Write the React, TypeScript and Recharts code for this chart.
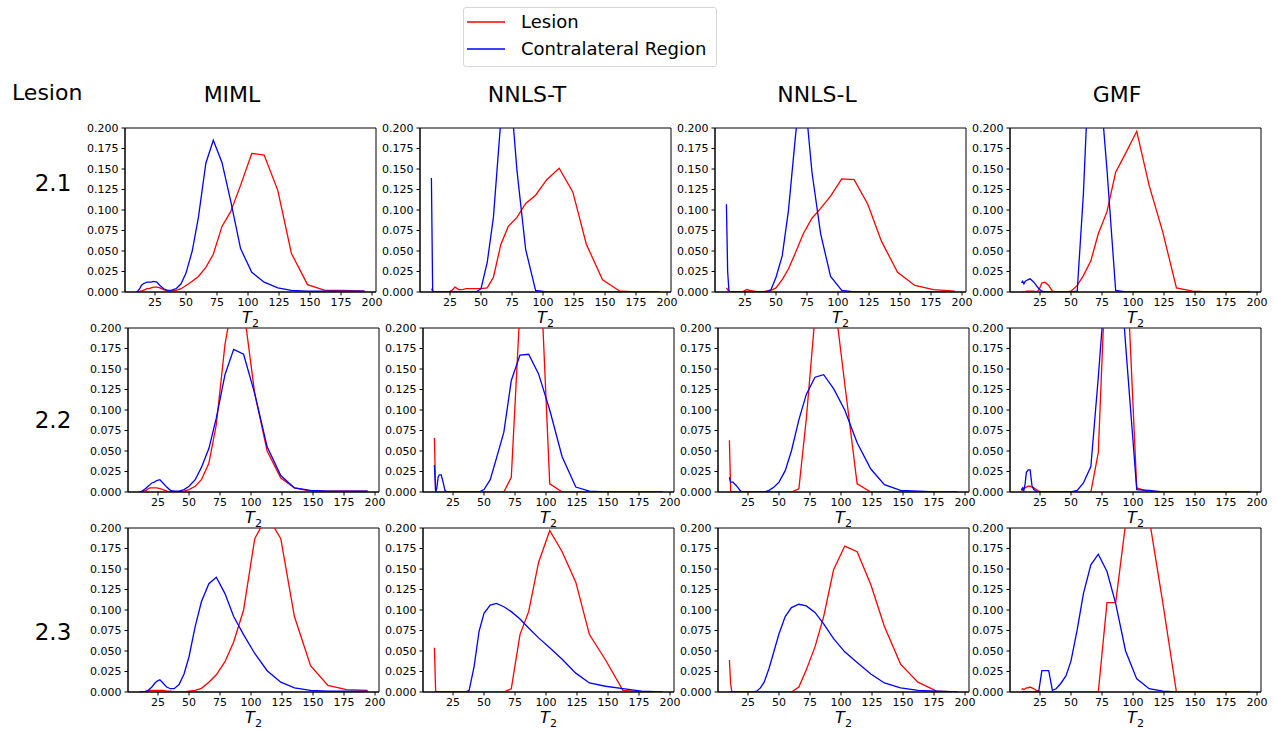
import { LineChart, Line, XAxis, YAxis, ReferenceArea } from "recharts";

// T2 sample grid (shared by every panel)
const T2 = [10, 11, 12, 13, 14, 15.5, 17, 18.5, 20, 22, 24, 26.5, 29, 32, 35, 38, 42, 46, 50, 55, 60, 66, 72, 79, 86, 94, 103, 113, 124, 135, 148, 162, 177, 194];

const X_TICKS = [25, 50, 75, 100, 125, 150, 175, 200];
const Y_TICKS = [0, 0.025, 0.05, 0.075, 0.1, 0.125, 0.15, 0.175, 0.2];

const methods = ["MIML", "NNLS-T", "NNLS-L", "GMF"];
const lesions = ["2.1", "2.2", "2.3"];

// lesion 2.1
const miml21Lesion = [0, 0, 0, 0.001, 0.001, 0.002, 0.003, 0.004, 0.004, 0.005, 0.006, 0.006, 0.005, 0.003, 0.001, 0.001, 0.002, 0.004, 0.008, 0.013, 0.019, 0.03, 0.046, 0.08, 0.098, 0.13, 0.169, 0.167, 0.124, 0.047, 0.009, 0.002, 0.002, 0.001];
const miml21Contra = [0, 0.001, 0.003, 0.005, 0.008, 0.01, 0.011, 0.012, 0.012, 0.012, 0.013, 0.012, 0.008, 0.004, 0.002, 0.002, 0.004, 0.01, 0.023, 0.05, 0.091, 0.157, 0.185, 0.158, 0.111, 0.053, 0.024, 0.012, 0.005, 0.002, 0.001, 0.001, 0.001, 0.001];
const nnlst21Lesion = [0.004, 0.001, 0, 0, 0, 0, 0, 0, 0, 0, 0, 0.002, 0.006, 0.003, 0.003, 0.004, 0.004, 0.004, 0.004, 0.005, 0.018, 0.058, 0.08, 0.091, 0.108, 0.118, 0.137, 0.151, 0.122, 0.058, 0.015, 0.001, 0, 0];
const nnlst21Contra = [0.139, 0.002, 0, 0, 0, 0, 0, 0, 0, 0, 0, 0, 0, 0, 0, 0, 0, 0, 0.004, 0.036, 0.091, 0.21, 0.28, 0.148, 0.052, 0.002, 0, 0, 0, 0, 0, 0, 0, 0];
const nnlsl21Lesion = [0.005, 0.003, 0, 0, 0, 0, 0, 0, 0, 0, 0.001, 0.003, 0.002, 0.001, 0, 0, 0.001, 0.002, 0.005, 0.015, 0.028, 0.049, 0.071, 0.09, 0.102, 0.117, 0.138, 0.137, 0.107, 0.062, 0.024, 0.008, 0.003, 0.001];
const nnlsl21Contra = [0.107, 0.025, 0.002, 0, 0, 0, 0, 0, 0, 0, 0, 0, 0, 0, 0, 0, 0, 0.003, 0.018, 0.044, 0.099, 0.195, 0.26, 0.146, 0.071, 0.019, 0.002, 0, 0, 0, 0, 0, 0, 0];
const gmf21Lesion = [0, 0, 0, 0, 0.001, 0.001, 0.001, 0.001, 0.001, 0, 0.002, 0.011, 0.012, 0.008, 0.001, 0, 0, 0, 0.001, 0.008, 0.02, 0.038, 0.071, 0.098, 0.146, 0.169, 0.196, 0.13, 0.073, 0.005, 0.001, 0, 0, 0];
const gmf21Contra = [0.011, 0.013, 0.01, 0.013, 0.014, 0.015, 0.016, 0.014, 0.012, 0.008, 0.004, 0.001, 0, 0, 0, 0, 0, 0, 0, 0.001, 0.12, 0.33, 0.28, 0.149, 0.002, 0, 0, 0, 0, 0, 0, 0, 0, 0];

// lesion 2.2
const miml22Lesion = [0, 0, 0, 0.001, 0.001, 0.002, 0.004, 0.005, 0.005, 0.005, 0.005, 0.004, 0.003, 0.001, 0, 0, 0, 0.001, 0.003, 0.007, 0.015, 0.035, 0.082, 0.18, 0.24, 0.225, 0.12, 0.05, 0.017, 0.005, 0.001, 0.001, 0.001, 0.001];
const miml22Contra = [0, 0, 0.001, 0.002, 0.003, 0.005, 0.007, 0.009, 0.011, 0.012, 0.014, 0.015, 0.011, 0.006, 0.002, 0.001, 0.001, 0.003, 0.007, 0.015, 0.03, 0.053, 0.09, 0.143, 0.174, 0.168, 0.12, 0.055, 0.02, 0.005, 0.002, 0.001, 0.001, 0.001];
const nnlst22Lesion = [0.066, 0, 0, 0, 0, 0, 0, 0, 0, 0, 0, 0, 0, 0, 0, 0, 0, 0, 0, 0, 0, 0, 0.018, 0.224, 0.32, 0.323, 0.01, 0, 0, 0, 0, 0, 0, 0];
const nnlst22Contra = [0.033, 0, 0.005, 0.018, 0.021, 0.021, 0.012, 0.002, 0, 0, 0, 0, 0, 0, 0, 0, 0, 0, 0.003, 0.015, 0.041, 0.073, 0.136, 0.167, 0.168, 0.144, 0.1, 0.043, 0.006, 0.001, 0, 0, 0, 0];
const nnlsl22Lesion = [0.063, 0, 0, 0, 0, 0, 0, 0, 0, 0, 0, 0, 0, 0, 0, 0, 0, 0, 0, 0, 0, 0.004, 0.089, 0.214, 0.3, 0.244, 0.132, 0.01, 0, 0, 0, 0, 0, 0];
const nnlsl22Contra = [0.018, 0.012, 0.012, 0.012, 0.01, 0.008, 0.005, 0.002, 0, 0, 0, 0, 0, 0, 0, 0, 0.002, 0.006, 0.012, 0.026, 0.05, 0.088, 0.119, 0.14, 0.143, 0.126, 0.1, 0.06, 0.028, 0.009, 0.002, 0.001, 0, 0];
const gmf22Lesion = [0.004, 0.002, 0.005, 0.005, 0.006, 0.007, 0.007, 0.006, 0.005, 0.003, 0.001, 0, 0, 0, 0, 0, 0, 0, 0, 0, 0, 0, 0.048, 0.311, 0.4, 0.308, 0.005, 0, 0, 0, 0, 0, 0, 0];
const gmf22Contra = [0.002, 0.005, 0.002, 0.01, 0.024, 0.027, 0.027, 0.008, 0.003, 0.001, 0, 0, 0, 0, 0, 0, 0, 0, 0, 0.002, 0.011, 0.031, 0.14, 0.28, 0.35, 0.18, 0.003, 0.002, 0, 0, 0, 0, 0, 0];

// lesion 2.3
const miml23Lesion = [0, 0, 0, 0, 0, 0.001, 0.001, 0.002, 0.002, 0.002, 0.002, 0.002, 0.002, 0.001, 0.001, 0, 0, 0, 0.001, 0.002, 0.0045, 0.012, 0.021, 0.037, 0.061, 0.1, 0.187, 0.215, 0.187, 0.092, 0.032, 0.008, 0.003, 0.002];
const miml23Contra = [0, 0, 0, 0, 0, 0.001, 0.002, 0.004, 0.006, 0.01, 0.013, 0.015, 0.011, 0.006, 0.004, 0.004, 0.009, 0.022, 0.043, 0.08, 0.11, 0.132, 0.14, 0.12, 0.092, 0.07, 0.047, 0.026, 0.012, 0.005, 0.002, 0.001, 0.001, 0.001];
const nnlst23Lesion = [0.054, 0, 0, 0, 0, 0, 0, 0, 0, 0, 0, 0, 0, 0, 0, 0, 0, 0, 0, 0, 0, 0, 0.004, 0.07, 0.098, 0.158, 0.197, 0.171, 0.134, 0.07, 0.039, 0.002, 0, 0];
const nnlst23Contra = [0, 0, 0, 0, 0, 0, 0, 0, 0, 0, 0, 0, 0, 0, 0, 0.002, 0.031, 0.074, 0.096, 0.106, 0.108, 0.104, 0.098, 0.089, 0.078, 0.066, 0.054, 0.04, 0.023, 0.011, 0.007, 0.004, 0.001, 0];
const nnlsl23Lesion = [0.039, 0.01, 0, 0, 0, 0, 0, 0, 0, 0, 0, 0, 0, 0, 0, 0, 0, 0, 0, 0, 0, 0.006, 0.027, 0.055, 0.092, 0.149, 0.178, 0.171, 0.131, 0.08, 0.034, 0.012, 0.001, 0];
const nnlsl23Contra = [0, 0, 0, 0, 0, 0, 0, 0, 0, 0, 0, 0, 0, 0.001, 0.005, 0.012, 0.029, 0.05, 0.071, 0.092, 0.103, 0.107, 0.105, 0.097, 0.083, 0.065, 0.049, 0.036, 0.022, 0.011, 0.005, 0.002, 0.001, 0];
const gmf23Lesion = [0.003, 0.004, 0.003, 0.004, 0.005, 0.005, 0.006, 0.005, 0.004, 0.002, 0.001, 0, 0, 0, 0, 0, 0, 0, 0, 0, 0, 0, 0, 0.109, 0.109, 0.205, 0.26, 0.212, 0.109, 0, 0, 0, 0, 0];
const gmf23Contra = [0, 0, 0, 0, 0, 0, 0, 0, 0, 0, 0.001, 0.026, 0.026, 0.026, 0.002, 0.004, 0.011, 0.02, 0.038, 0.076, 0.12, 0.155, 0.168, 0.147, 0.108, 0.05, 0.016, 0.004, 0.001, 0, 0, 0, 0, 0];

const lesionRows = [
  [miml21Lesion, nnlst21Lesion, nnlsl21Lesion, gmf21Lesion],
  [miml22Lesion, nnlst22Lesion, nnlsl22Lesion, gmf22Lesion],
  [miml23Lesion, nnlst23Lesion, nnlsl23Lesion, gmf23Lesion],
];
const contraRows = [
  [miml21Contra, nnlst21Contra, nnlsl21Contra, gmf21Contra],
  [miml22Contra, nnlst22Contra, nnlsl22Contra, gmf22Contra],
  [miml23Contra, nnlst23Contra, nnlsl23Contra, gmf23Contra],
];

const FONT = "'DejaVu Sans', sans-serif";
const PLOT_W = 251;
const PLOT_H = 164;
const Y_AXIS_W = 50;
const RIGHT_PAD = 12;
const TOP_PAD = 5;
const X_AXIS_H = 22;

const plotTops = [128, 328, 528];
const plotLefts = [
  [125, 420, 715, 1010],
  [128, 423, 718, 1010],
  [128, 423, 718, 1010],
];
const titleX = [232, 527, 817, 1117];
const rowLabelY = [183, 420, 632];

const Panel = ({ lesion, contra, left, top }) => {
  const data = T2.map((t, i) => ({ t, lesion: lesion[i], contra: contra[i] }));
  return (
    <div style={{ position: "absolute", left: left - Y_AXIS_W, top: top - TOP_PAD }}>
      <LineChart
        width={Y_AXIS_W + PLOT_W + RIGHT_PAD}
        height={TOP_PAD + PLOT_H + X_AXIS_H}
        data={data}
        margin={{ top: TOP_PAD, right: RIGHT_PAD, bottom: 0, left: 0 }}
        style={{ overflow: "visible" }}
      >
        <XAxis
          dataKey="t"
          type="number"
          domain={[0.8, 203.2]}
          ticks={X_TICKS}
          interval={0}
          allowDataOverflow
          height={X_AXIS_H}
          tickSize={3.5}
          tickMargin={3}
          axisLine={{ stroke: "#000" }}
          tickLine={{ stroke: "#000" }}
          tick={{ fill: "#000", fontSize: 11, fontFamily: FONT }}
        />
        <YAxis
          type="number"
          domain={[0, 0.2]}
          ticks={Y_TICKS}
          interval={0}
          allowDataOverflow
          width={Y_AXIS_W}
          tickSize={3.5}
          tickMargin={3}
          tickFormatter={(v) => v.toFixed(3)}
          axisLine={{ stroke: "#000" }}
          tickLine={{ stroke: "#000" }}
          tick={{ fill: "#000", fontSize: 11, fontFamily: FONT }}
        />
        <Line type="linear" dataKey="lesion" stroke="#ff0000" strokeWidth={1.3} dot={false} isAnimationActive={false} />
        <Line type="linear" dataKey="contra" stroke="#0000ff" strokeWidth={1.3} dot={false} isAnimationActive={false} />
        <ReferenceArea x1={0.8} x2={203.2} y1={0} y2={0.2} fill="none" stroke="#000" strokeWidth={1} />
      </LineChart>
    </div>
  );
};

const centered = (x, y) => ({
  position: "absolute" as const,
  left: x,
  top: y,
  transform: "translate(-50%, -50%)",
  whiteSpace: "nowrap" as const,
  lineHeight: 1,
});

export default function App() {
  return (
    <div
      style={{
        position: "absolute",
        left: 0,
        top: 0,
        width: 1276,
        height: 729,
        background: "#fff",
        fontFamily: FONT,
        color: "#000",
        overflow: "hidden",
      }}
    >
      {/* legend */}
      <div
        style={{
          position: "absolute",
          left: 463,
          top: 7,
          width: 252,
          height: 58,
          border: "1px solid #d6d6d6",
          borderRadius: 3,
          background: "#fff",
          fontSize: 18,
        }}
      >
        <svg width={50} height={58} style={{ position: "absolute", left: 0, top: 0 }}>
          <line x1={3} x2={41} y1={14} y2={14} stroke="#ff0000" strokeWidth={1.5} />
          <line x1={3} x2={41} y1={41} y2={41} stroke="#0000ff" strokeWidth={1.5} />
        </svg>
        <div style={{ position: "absolute", left: 57, top: 14, transform: "translateY(-50%)", lineHeight: 1 }}>Lesion</div>
        <div style={{ position: "absolute", left: 57, top: 41, transform: "translateY(-50%)", lineHeight: 1 }}>
          Contralateral Region
        </div>
      </div>

      <div style={{ position: "absolute", left: 12, top: 93, transform: "translateY(-50%)", fontSize: 22, lineHeight: 1 }}>
        Lesion
      </div>

      {methods.map((m, c) => (
        <div key={m} style={{ ...centered(titleX[c], 95), fontSize: 22 }}>
          {m}
        </div>
      ))}

      {lesions.map((l, r) => (
        <div key={l} style={{ ...centered(53, rowLabelY[r]), fontSize: 23 }}>
          {l}
        </div>
      ))}

      {lesions.map((l, r) =>
        methods.map((m, c) => (
          <Panel
            key={l + m}
            lesion={lesionRows[r][c]}
            contra={contraRows[r][c]}
            left={plotLefts[r][c]}
            top={plotTops[r]}
          />
        ))
      )}

      {lesions.map((l, r) =>
        methods.map((m, c) => (
          <div
            key={"t2" + l + m}
            style={{
              position: "absolute",
              left: plotLefts[r][c] + PLOT_W / 2,
              top: plotTops[r] + PLOT_H + 19,
              transform: "translateX(-50%)",
              fontSize: 16,
              lineHeight: "14px",
              height: 14,
              whiteSpace: "nowrap",
            }}
          >
            <span style={{ fontStyle: "italic" }}>T</span>
            <span style={{ fontSize: 11, position: "relative", top: 4, lineHeight: 0 }}>2</span>
          </div>
        ))
      )}
    </div>
  );
}
